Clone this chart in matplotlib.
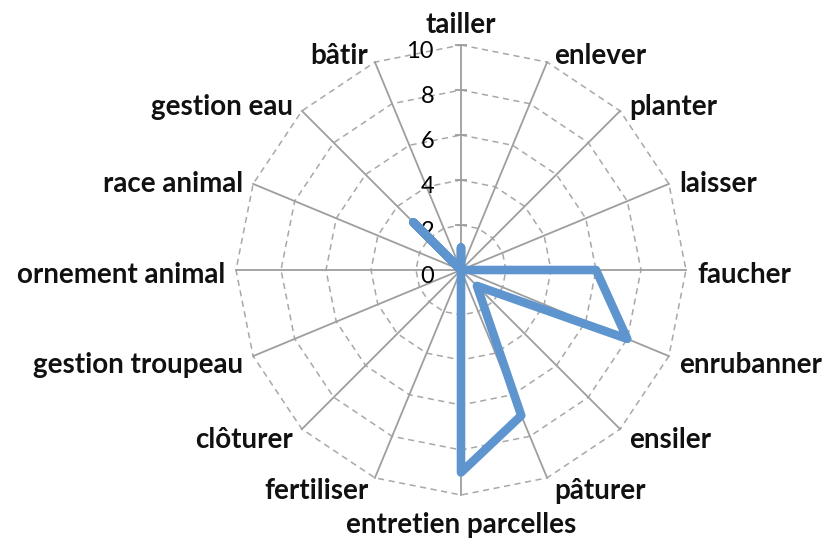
import numpy as np
import matplotlib.pyplot as plt

categories = ["tailler", "enlever", "planter", "laisser", "faucher", "enrubanner",
              "ensiler", "pâturer", "entretien parcelles", "fertiliser", "clôturer",
              "gestion troupeau", "ornement animal", "race animal", "gestion eau", "bâtir"]
values = [1, 0, 0, 0, 6, 8, 1, 7, 9, 0, 0, 0, 0, 0, 3, 0]
levels = [0, 2, 4, 6, 8, 10]

W, H = 826, 541
CX, CY, R = 461, 270, 225

GRID = "#a8a8a8"
SPOKE = "#9e9e9e"
LINE = "#5e95cf"


def plot_radar(output_path):
    n = len(categories)
    angles = np.linspace(0, 2 * np.pi, n, endpoint=False)
    ring = np.append(angles, angles[0])

    fig = plt.figure(figsize=(W / 100, H / 100), dpi=100)
    ax = fig.add_axes([(CX - R) / W, (H - CY - R) / H, 2 * R / W, 2 * R / H],
                      projection="polar")
    ax.set_theta_zero_location("N")
    ax.set_theta_direction(-1)
    ax.set_ylim(0, levels[-1])
    ax.axis("off")

    # dashed polygon gridlines
    for lv in levels[1:]:
        ax.plot(ring, [lv] * (n + 1), color=GRID, lw=1.1, ls=(0, (4, 3)), clip_on=False)

    # spokes
    for a in angles:
        ax.plot([a, a], [0, levels[-1]], color=SPOKE, lw=1.3, clip_on=False)
    ax.plot([0] * (len(levels) - 1), levels[1:], ls="none", marker="_", ms=8,
            mew=1.3, color=SPOKE, clip_on=False)

    # value axis labels
    for lv in levels:
        ax.annotate(str(lv), xy=(0, lv), xytext=(-27, -13), textcoords="offset pixels",
                    ha="right", va="baseline", fontsize=17, family="Lato", color="black")

    # series
    ax.plot(ring, values + values[:1], color=LINE, lw=6.2, solid_joinstyle="round",
            solid_capstyle="round", clip_on=False, zorder=5)

    # category labels
    for a, cat in zip(angles, categories):
        s, c = np.sin(a), np.cos(a)
        if abs(s) < 1e-6:
            ha = "center"
            dx = 0
            dy = 12 if c > 0 else -38
        else:
            ha = "left" if s > 0 else "right"
            dx = np.sign(s) * (4 + 7 * abs(s))
            dy = -(13 - 12 * c) if c >= 0 else -(13 - 9 * c)
        ax.annotate(cat, xy=(a, levels[-1]), xytext=(dx, dy), textcoords="offset pixels",
                    ha=ha, va="baseline", fontsize=20, fontweight="bold",
                    family="Lato", color="#111111")

    fig.savefig(output_path, dpi=100)
    plt.close(fig)


plot_radar("out.png")
